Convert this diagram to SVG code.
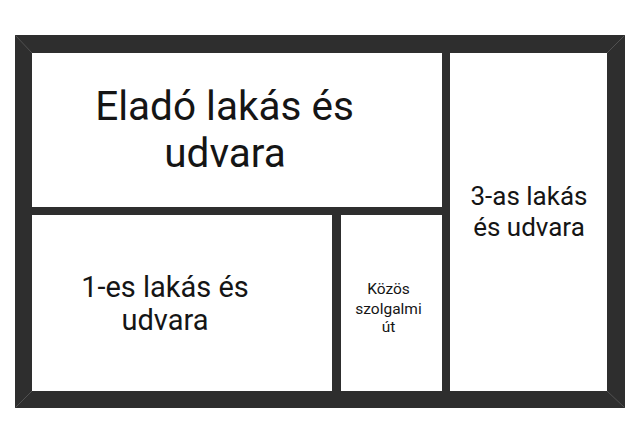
<svg xmlns="http://www.w3.org/2000/svg" width="640" height="443" viewBox="0 0 640 443">
<style>
.wall{fill:#2e2e2e}
.bevel{stroke:#505050;stroke-width:1;fill:none}
.lbl{font-family:Roboto,"Liberation Sans",sans-serif;fill:#151515;text-anchor:middle}
</style>
<rect width="640" height="443" fill="#ffffff"/>
<g id="frame">
<path class="wall" fill-rule="evenodd" d="M15 35H625V408H15Z M32 53V391H607V53Z"/>
<path class="bevel" d="M15.5 35.5L32 53M624.5 35.5L607 53M15.5 407.5L32 391M624.5 407.5L607 391"/>
</g>
<g id="walls">
<rect class="wall" x="442" y="53" width="8" height="338"/>
<rect class="wall" x="32" y="207" width="410" height="8"/>
<rect class="wall" x="332" y="215" width="9" height="176"/>
</g>
<g id="room-elado">
<text class="lbl" x="224.5" y="119.5" font-size="40.5">Eladó lakás és</text>
<text class="lbl" x="225" y="166.5" font-size="40.5">udvara</text>
</g>
<g id="room-3as">
<text class="lbl" x="529" y="205" font-size="26">3-as lakás</text>
<text class="lbl" x="529" y="235.5" font-size="26">és udvara</text>
</g>
<g id="room-1es">
<text class="lbl" x="165" y="296.5" font-size="29">1-es lakás és</text>
<text class="lbl" x="165" y="330" font-size="29">udvara</text>
</g>
<g id="room-kozos">
<text class="lbl" x="388.5" y="293.5" font-size="15.5">Közös</text>
<text class="lbl" x="388.5" y="313.5" font-size="15.5">szolgalmi</text>
<text class="lbl" x="388.5" y="332" font-size="15.5">út</text>
</g>
</svg>
